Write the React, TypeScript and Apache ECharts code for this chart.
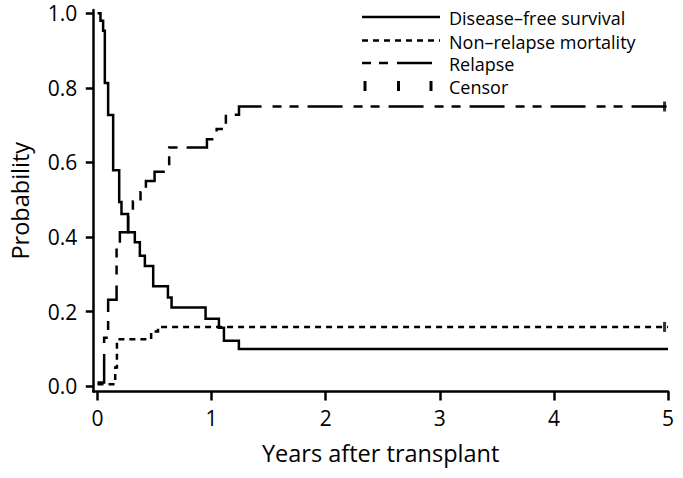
import React, { useEffect, useRef } from "react";
import * as echarts from "echarts";

// Disease-free survival (Kaplan–Meier step points: time in years, probability)
const dfsTimes = [0, 0.026, 0.049, 0.064, 0.093, 0.137, 0.19, 0.21, 0.268, 0.327, 0.371, 0.415, 0.488, 0.617, 0.649, 0.947, 1.064, 1.108, 1.239, 5];
const dfsProb = [1.0, 0.98, 0.953, 0.813, 0.727, 0.579, 0.494, 0.462, 0.413, 0.386, 0.35, 0.322, 0.268, 0.238, 0.211, 0.181, 0.157, 0.122, 0.1, 0.1];

// Non-relapse mortality
const nrmTimes = [0, 0.155, 0.17, 0.47, 0.53, 5];
const nrmProb = [0.005, 0.05, 0.126, 0.147, 0.159, 0.159];

// Relapse
const relapseTimes = [0, 0.058, 0.093, 0.167, 0.196, 0.268, 0.31, 0.377, 0.424, 0.5, 0.628, 0.959, 1.044, 1.125, 1.24, 5];
const relapseProb = [0.01, 0.13, 0.232, 0.373, 0.413, 0.462, 0.495, 0.52, 0.55, 0.575, 0.64, 0.662, 0.69, 0.728, 0.75, 0.75];

// Censor marks
const censorTimes = [4.97, 4.97];
const censorProb = [0.75, 0.159];

const xTicks = [0, 1, 2, 3, 4, 5];
const yTicks = [0, 0.2, 0.4, 0.6, 0.8, 1.0];

const legendNames = ["Disease\u2013free survival", "Non\u2013relapse mortality", "Relapse", "Censor"];
const xTitle = "Years after transplant";
const yTitle = "Probability";

const FONT = "'Open Sans', 'Liberation Sans', sans-serif";
const relapseDash = [35, 11, 9, 8, 9, 9];
const nrmDash = [6, 5];

function zip(a: number[], b: number[]) {
  return a.map((t, i) => [t, b[i]]);
}

export default function App() {
  const ref = useRef<HTMLDivElement>(null);
  useEffect(() => {
    if (!ref.current) return;
    const chart = echarts.init(ref.current, undefined, { renderer: "svg" });
    const lx0 = 362;
    const lx1 = 440;
    const tx = 449;
    const rows = [17, 40.5, 63, 86];
    const legendGraphics: any[] = [
      { type: "line", shape: { x1: lx0, y1: rows[0], x2: lx1, y2: rows[0] }, style: { stroke: "#000", lineWidth: 2.5 } },
      { type: "line", shape: { x1: lx0, y1: rows[1], x2: lx1, y2: rows[1] }, style: { stroke: "#000", lineWidth: 2.5, lineDash: nrmDash } },
      { type: "line", shape: { x1: lx0, y1: rows[2], x2: lx1, y2: rows[2] }, style: { stroke: "#000", lineWidth: 2.5, lineDash: [9, 8, 9, 9, 35, 11] } },
      ...[365, 398.5, 431].map((x) => ({
        type: "rect",
        shape: { x: x - 1.5, y: rows[3] - 5, width: 3, height: 10 },
        style: { fill: "#000" },
      })),
      ...legendNames.map((name, i) => ({
        type: "text",
        x: tx,
        y: rows[i] + 1,
        style: { text: name, fill: "#000", font: `18px ${FONT}`, textAlign: "left", textVerticalAlign: "middle" },
      })),
    ];

    chart.setOption({
      animation: false,
      backgroundColor: "#fff",
      textStyle: { fontFamily: FONT, color: "#000" },
      grid: { left: 93.3, right: 15, top: 10, bottom: 86.5, outerBoundsMode: "none", containLabel: false },
      xAxis: {
        type: "value",
        min: -0.037,
        max: 5,
        name: xTitle,
        nameLocation: "middle",
        nameGap: 49,
        nameTextStyle: { fontSize: 23.5, color: "#000", fontFamily: FONT },
        axisLine: { onZero: false, lineStyle: { color: "#000", width: 2.5 } },
        axisTick: { show: true, customValues: xTicks, length: 9, lineStyle: { color: "#000", width: 2.5 } },
        axisLabel: { customValues: xTicks, margin: 16, fontSize: 21, color: "#000", fontFamily: FONT, formatter: (v: number) => String(Math.round(v)) },
        splitLine: { show: false },
      },
      yAxis: {
        type: "value",
        min: -0.0142,
        max: 1.0088,
        name: yTitle,
        nameLocation: "middle",
        nameGap: 61,
        nameTextStyle: { fontSize: 23.5, color: "#000", fontFamily: FONT },
        axisLine: { onZero: false, lineStyle: { color: "#000", width: 2.5 } },
        axisTick: { show: true, customValues: yTicks, length: 7.5, lineStyle: { color: "#000", width: 2.5 } },
        axisLabel: { customValues: yTicks, margin: 16, fontSize: 21, color: "#000", fontFamily: FONT, formatter: (v: number) => v.toFixed(1) },
        splitLine: { show: false },
      },
      series: [
        {
          name: legendNames[0],
          type: "line",
          step: "end",
          symbol: "none",
          data: zip(dfsTimes, dfsProb),
          lineStyle: { color: "#000", width: 2.5, type: "solid", cap: "butt", join: "miter" },
          z: 3,
        },
        {
          name: legendNames[1],
          type: "line",
          step: "end",
          symbol: "none",
          data: zip(nrmTimes, nrmProb),
          lineStyle: { color: "#000", width: 2.5, type: nrmDash, cap: "butt", join: "miter" },
          z: 2,
        },
        {
          name: legendNames[2],
          type: "line",
          step: "end",
          symbol: "none",
          data: zip(relapseTimes, relapseProb),
          lineStyle: { color: "#000", width: 2.5, type: relapseDash, cap: "butt", join: "miter" },
          z: 2,
        },
        {
          name: legendNames[3],
          type: "scatter",
          symbol: "rect",
          symbolSize: [3, 10],
          data: zip(censorTimes, censorProb),
          itemStyle: { color: "#000" },
          clip: false,
          z: 4,
        },
      ],
      graphic: legendGraphics,
    });
    return () => chart.dispose();
  }, []);
  return <div ref={ref} style={{ width: 683, height: 478, position: "absolute", left: 0, top: 0 }} />;
}
